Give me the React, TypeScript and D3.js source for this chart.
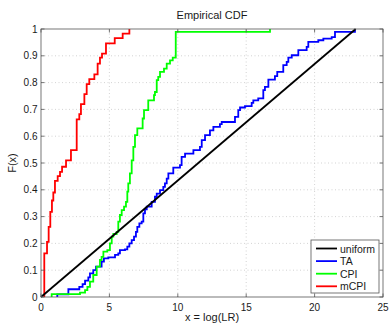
import React, { useEffect, useRef } from "react";
import * as d3 from "d3";

// step points of each empirical CDF: [x where it jumps, F after the jump]
const uniformX = [0, 23];
const uniformF = [0, 1];

const taSteps: [number, number][] = [
  [1.19, 0.01], [2.0, 0.029], [2.8, 0.038], [3.04, 0.048], [3.22, 0.061], [3.46, 0.073],
  [3.58, 0.088], [3.82, 0.1], [4.02, 0.113], [4.43, 0.132], [4.6, 0.144], [4.92, 0.148],
  [5.41, 0.157], [5.65, 0.163], [5.77, 0.175], [6.14, 0.178], [6.31, 0.188], [6.46, 0.2],
  [6.63, 0.212], [6.8, 0.225], [6.94, 0.243], [7.04, 0.262], [7.19, 0.275], [7.36, 0.281],
  [7.48, 0.312], [7.6, 0.327], [7.73, 0.337], [8.09, 0.355], [8.33, 0.374], [8.46, 0.386],
  [8.7, 0.399], [8.94, 0.411], [9.06, 0.424], [9.19, 0.442], [9.31, 0.461], [9.67, 0.483],
  [10.16, 0.492], [10.28, 0.523], [10.53, 0.535], [11.14, 0.548], [11.62, 0.56],
  [11.75, 0.585], [11.99, 0.604], [12.35, 0.622], [12.6, 0.635], [13.08, 0.645],
  [13.21, 0.653], [14.18, 0.672], [14.42, 0.697], [14.55, 0.707], [14.91, 0.712],
  [15.4, 0.724], [15.52, 0.734], [15.88, 0.741], [16.25, 0.772], [16.37, 0.784],
  [16.62, 0.811], [17.1, 0.824], [17.27, 0.84], [17.71, 0.865], [17.96, 0.877],
  [18.08, 0.893], [18.33, 0.902], [18.81, 0.921], [19.42, 0.933], [19.54, 0.952],
  [20.27, 0.958], [20.64, 0.964], [21.25, 0.97], [21.49, 0.989], [22.95, 1.0],
];

const cpiSteps: [number, number][] = [
  [0.78, 0.011], [2.85, 0.016], [3.22, 0.026], [3.39, 0.038], [3.58, 0.057], [3.82, 0.082],
  [4.07, 0.113], [4.31, 0.138], [4.43, 0.15], [4.56, 0.169], [4.85, 0.175], [5.04, 0.2],
  [5.17, 0.225], [5.29, 0.235], [5.53, 0.243], [5.65, 0.281], [5.77, 0.306], [5.9, 0.324],
  [6.07, 0.337], [6.21, 0.355], [6.31, 0.393], [6.38, 0.424], [6.5, 0.461], [6.63, 0.51],
  [6.75, 0.56], [6.87, 0.604], [7.04, 0.629], [7.43, 0.666], [7.53, 0.697], [7.84, 0.734],
  [8.26, 0.753], [8.33, 0.765], [8.46, 0.809], [8.57, 0.821], [8.7, 0.84], [8.99, 0.852],
  [9.19, 0.871], [9.43, 0.883], [9.63, 0.893], [9.85, 0.989], [16.74, 1.0],
];

const mcpiSteps: [number, number][] = [
  [0.24, 0.163], [0.44, 0.206], [0.56, 0.262], [0.68, 0.318], [0.8, 0.36], [0.9, 0.39],
  [1.02, 0.433], [1.22, 0.451], [1.39, 0.467], [1.54, 0.486], [1.83, 0.51], [2.19, 0.548],
  [2.61, 0.663], [2.8, 0.682], [2.92, 0.72], [3.17, 0.757], [3.34, 0.794], [3.53, 0.813],
  [3.9, 0.831], [4.14, 0.871], [4.31, 0.893], [4.46, 0.908], [4.75, 0.946], [5.39, 0.966],
  [5.97, 0.983], [6.46, 1.0],
];

const legendNames = ["uniform", "TA", "CPI", "mCPI"];
const legendColors = ["#000000", "#0000ff", "#00ff00", "#ff0000"];

const xTicks = [0, 5, 10, 15, 20, 25];
const yTicks = [0, 0.1, 0.2, 0.3, 0.4, 0.5, 0.6, 0.7, 0.8, 0.9, 1];

const W = 391;
const H = 325;
const margin = { left: 41, right: 8, top: 29, bottom: 28 };

const App = () => {
  const ref = useRef(null);

  useEffect(() => {
    const svg = d3.select(ref.current);
    svg.selectAll("*").remove();
    const font = "'Liberation Sans', Arial, sans-serif";

    const x = d3.scaleLinear().domain([0, 25]).range([margin.left, W - margin.right]);
    const y = d3.scaleLinear().domain([0, 1]).range([H - margin.bottom, margin.top]);
    const x0 = x(0), x1 = x(25), y0 = y(0), y1 = y(1);

    svg.append("rect").attr("x", x0).attr("y", y1).attr("width", x1 - x0).attr("height", y0 - y1).attr("fill", "#fff");

    // grid
    const grid = svg.append("g").attr("stroke", "#c8c8c8").attr("stroke-width", 0.8).attr("stroke-dasharray", "1,2.5");
    xTicks.slice(1, -1).forEach((t) => {
      grid.append("line").attr("x1", x(t)).attr("x2", x(t)).attr("y1", y0).attr("y2", y1);
    });
    yTicks.slice(1, -1).forEach((t) => {
      grid.append("line").attr("x1", x0).attr("x2", x1).attr("y1", y(t)).attr("y2", y(t));
    });

    // curves
    const line = d3
      .line<[number, number]>()
      .x((d) => x(d[0]))
      .y((d) => y(d[1]))
      .curve(d3.curveStepAfter);

    const series: [[number, number][], string][] = [
      [[[taSteps[0][0], 0], ...taSteps], "#0000ff"],
      [[[cpiSteps[0][0], 0], ...cpiSteps], "#00ff00"],
      [[[mcpiSteps[0][0], 0], ...mcpiSteps], "#ff0000"],
    ];
    series.forEach(([pts, c]) => {
      svg.append("path").attr("d", line(pts)).attr("fill", "none").attr("stroke", c).attr("stroke-width", 1.8);
    });

    const uni: [number, number][] = uniformX.map((v, i) => [v, uniformF[i]]);
    svg
      .append("path")
      .attr("d", d3.line<[number, number]>().x((d) => x(d[0])).y((d) => y(d[1]))(uni))
      .attr("fill", "none")
      .attr("stroke", "#000")
      .attr("stroke-width", 1.8);

    // box and ticks
    const ax = svg.append("g").attr("stroke", "#555").attr("stroke-width", 0.8);
    ax.append("rect").attr("x", x0).attr("y", y1).attr("width", x1 - x0).attr("height", y0 - y1).attr("fill", "none");
    xTicks.forEach((t) => {
      ax.append("line").attr("x1", x(t)).attr("x2", x(t)).attr("y1", y0).attr("y2", y0 - 3.5);
      ax.append("line").attr("x1", x(t)).attr("x2", x(t)).attr("y1", y1).attr("y2", y1 + 3.5);
    });
    yTicks.forEach((t) => {
      ax.append("line").attr("x1", x0).attr("x2", x0 + 3.5).attr("y1", y(t)).attr("y2", y(t));
      ax.append("line").attr("x1", x1).attr("x2", x1 - 3.5).attr("y1", y(t)).attr("y2", y(t));
    });

    const txt = svg.append("g").attr("font-family", font).attr("font-size", 10).attr("fill", "#1a1a1a");
    xTicks.forEach((t) => {
      txt.append("text").attr("x", x(t)).attr("y", y0 + 14).attr("text-anchor", "middle").text(String(t));
    });
    yTicks.forEach((t) => {
      txt.append("text").attr("x", x0 - 3.5).attr("y", y(t) + 3.6).attr("text-anchor", "end").text(String(t));
    });
    txt.append("text").attr("x", (x0 + x1) / 2).attr("y", 19).attr("font-size", 11).attr("text-anchor", "middle").text("Empirical CDF");
    txt.append("text").attr("x", (x0 + x1) / 2).attr("y", H - 4).attr("font-size", 11).attr("text-anchor", "middle").text("x = log(LR)");
    txt
      .append("text")
      .attr("transform", `translate(16,${(y0 + y1) / 2}) rotate(-90)`)
      .attr("font-size", 11)
      .attr("text-anchor", "middle")
      .text("F(x)");

    // legend
    const lg = svg.append("g").attr("transform", "translate(311,240)");
    lg.append("rect").attr("width", 68).attr("height", 53).attr("fill", "#fff").attr("stroke", "#555").attr("stroke-width", 0.8);
    legendNames.forEach((n, i) => {
      const yy = 8.5 + i * 12.6;
      lg.append("line").attr("x1", 5).attr("x2", 26).attr("y1", yy).attr("y2", yy).attr("stroke", legendColors[i]).attr("stroke-width", 1.8);
      lg.append("text")
        .attr("x", 29)
        .attr("y", yy + 4)
        .attr("font-family", font)
        .attr("font-size", 10.5)
        .attr("fill", "#1a1a1a")
        .text(n);
    });
  }, []);

  return (
    <div style={{ position: "absolute", left: 0, top: 0 }}>
      <svg ref={ref} width={W} height={H} style={{ display: "block" }}></svg>
    </div>
  );
};

export default App;
